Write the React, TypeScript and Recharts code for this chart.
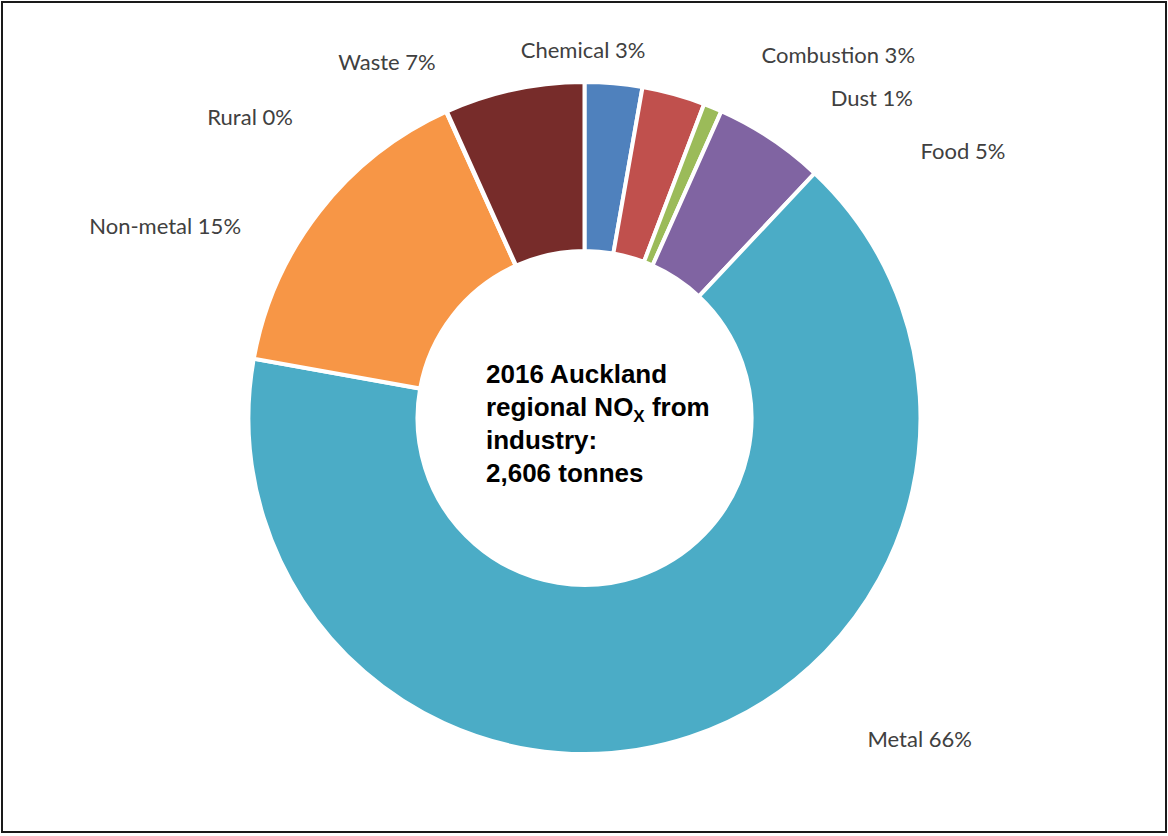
import React from "react";
import { PieChart, Pie, Cell } from "recharts";

const categories = ["Chemical", "Combustion", "Dust", "Food", "Metal", "Non-metal", "Rural", "Waste"];
const tonnes = [72, 79, 23, 139, 1715, 402, 1, 175];
const colors = ["#4F81BD", "#C0504D", "#9BBB59", "#8064A2", "#4BACC6", "#F79646", "#2C4D75", "#772C2A"];
const titleLines = ["2016 Auckland", "regional NO", "industry:", "2,606 tonnes"];

const data = categories.map((name, i) => ({ name, value: tonnes[i] }));

// label nudges (dx, dy) from a radial anchor, mimicking Excel best-fit placement
const labelNudge: Record<string, [number, number]> = {
  Chemical: [-33.5, 8.3],
  Combustion: [155.5, 2],
  Dust: [146, 30],
  Food: [173.5, 49],
  Metal: [219, -22],
  "Non-metal": [-127.5, 43.5],
  Rural: [-182.5, 44.4],
  Waste: [-120, 14],
};

const RAD = Math.PI / 180;

const renderLabel = (props: any) => {
  const { cx, cy, midAngle, outerRadius, percent, name } = props;
  const r = outerRadius + 34;
  const x0 = cx + r * Math.cos(-midAngle * RAD);
  const y0 = cy + r * Math.sin(-midAngle * RAD);
  const n = labelNudge[name] || [0, 0];
  return (
    <text
      x={x0 + n[0]}
      y={y0 + n[1]}
      textAnchor="middle"
      fill="#404040"
      fontFamily="Lato, 'Open Sans', sans-serif"
      fontSize={22}
    >
      {`${name} ${Math.round(percent * 100)}%`}
    </text>
  );
};

export default function App() {
  return (
    <div style={{ position: "relative", width: 1168, height: 836, background: "#fff" }}>
      <style>{`body{margin:0}`}</style>
      <div
        style={{
          position: "absolute",
          left: 1,
          top: 1,
          width: 1166,
          height: 832,
          boxSizing: "border-box",
          border: "2px solid #1a1a1a",
        }}
      />
      <div style={{ position: "absolute", left: 0, top: 0 }}>
        <PieChart width={1168} height={836} margin={{ top: 0, right: 0, bottom: 0, left: 0 }}>
          <Pie
            data={data}
            dataKey="value"
            nameKey="name"
            cx={584.5}
            cy={418}
            innerRadius={167}
            outerRadius={336}
            startAngle={90}
            endAngle={-270}
            stroke="#ffffff"
            strokeWidth={4}
            label={renderLabel}
            labelLine={false}
            isAnimationActive={false}
          >
            {data.map((d, i) => (
              <Cell key={d.name} fill={colors[i]} />
            ))}
          </Pie>
        </PieChart>
      </div>
      <div
        style={{
          position: "absolute",
          left: 486,
          top: 357.5,
          fontFamily: "'Liberation Sans', Arial, sans-serif",
          fontWeight: "bold",
          fontSize: 26,
          lineHeight: "33px",
          color: "#000",
          whiteSpace: "nowrap",
        }}
      >
        <div>{titleLines[0]}</div>
        <div>
          {titleLines[1]}
          <span style={{ fontSize: 17, position: "relative", top: 6, lineHeight: 0 }}>X</span> from
        </div>
        <div>{titleLines[2]}</div>
        <div>{titleLines[3]}</div>
      </div>
    </div>
  );
}
